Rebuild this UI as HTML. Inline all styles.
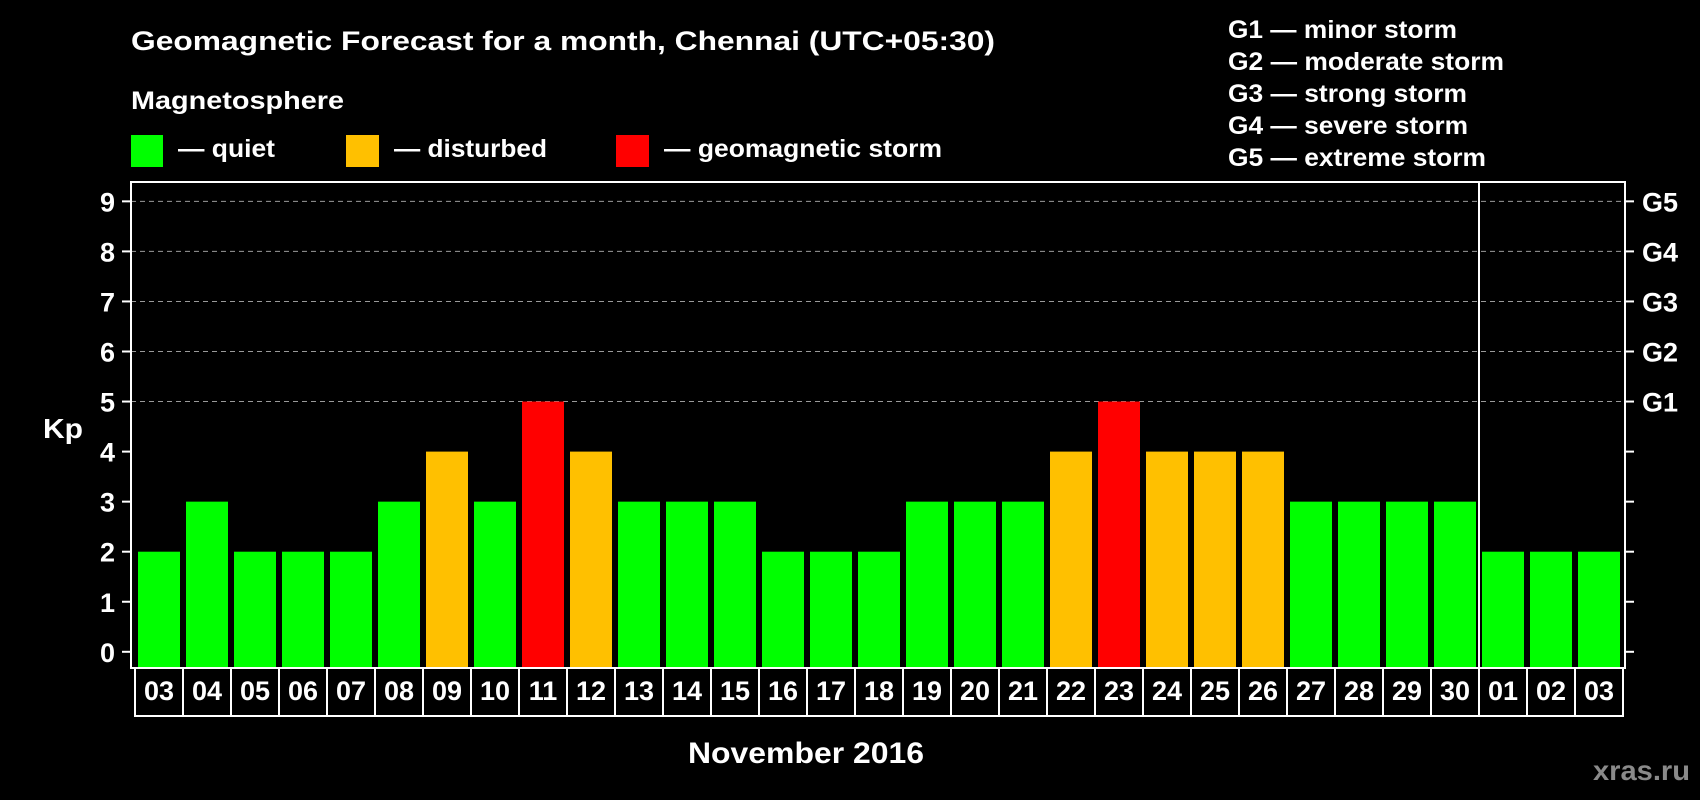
<!DOCTYPE html>
<html><head><meta charset="utf-8"><style>
html,body{margin:0;padding:0;background:#000;}
svg{display:block;font-family:"Liberation Sans",Arial,sans-serif;font-weight:bold;}
</style></head><body>
<svg id="chart" width="1700" height="800" viewBox="0 0 1700 800" xmlns="http://www.w3.org/2000/svg">
<rect x="0" y="0" width="1700" height="800" fill="#000"/>
<text x="131" y="50" fill="#fff" font-size="27" textLength="864" lengthAdjust="spacingAndGlyphs">Geomagnetic Forecast for a month, Chennai (UTC+05:30)</text>
<text x="131" y="109" fill="#fff" font-size="25" textLength="213" lengthAdjust="spacingAndGlyphs">Magnetosphere</text>
<g>
<rect x="131" y="135" width="32" height="32" fill="#00ff00"/>
<text x="178" y="157" fill="#fff" font-size="25" textLength="97" lengthAdjust="spacingAndGlyphs">— quiet</text></g>
<g>
<rect x="346" y="135" width="33" height="32" fill="#ffc000"/>
<text x="394" y="157" fill="#fff" font-size="25" textLength="153" lengthAdjust="spacingAndGlyphs">— disturbed</text></g>
<g>
<rect x="616" y="135" width="33" height="32" fill="#ff0000"/>
<text x="664" y="157" fill="#fff" font-size="25" textLength="278" lengthAdjust="spacingAndGlyphs">— geomagnetic storm</text></g>
<g fill="#fff" font-size="25">
<text x="1228" y="38" textLength="229" lengthAdjust="spacingAndGlyphs">G1 — minor storm</text>
<text x="1228" y="70" textLength="276" lengthAdjust="spacingAndGlyphs">G2 — moderate storm</text>
<text x="1228" y="102" textLength="239" lengthAdjust="spacingAndGlyphs">G3 — strong storm</text>
<text x="1228" y="134" textLength="240" lengthAdjust="spacingAndGlyphs">G4 — severe storm</text>
<text x="1228" y="166" textLength="258" lengthAdjust="spacingAndGlyphs">G5 — extreme storm</text>
</g>
<g id="grid"></g>
<g id="bars"></g>
<g id="axes"></g>
<text x="43" y="438" fill="#fff" font-size="28" textLength="40" lengthAdjust="spacingAndGlyphs">Kp</text>
<text x="688" y="763" fill="#fff" font-size="30" textLength="236" lengthAdjust="spacingAndGlyphs">November 2016</text>
<text x="1593" y="780" fill="#8a8a8a" font-size="28" textLength="97" lengthAdjust="spacingAndGlyphs">xras.ru</text>
</svg>
<script>
const days = ["03","04","05","06","07","08","09","10","11","12","13","14","15","16","17","18","19","20","21","22","23","24","25","26","27","28","29","30","01","02","03"];
const kpValues = [2,3,2,2,2,3,4,3,5,4,3,3,3,2,2,2,3,3,3,4,5,4,4,4,3,3,3,3,2,2,2];
const yTicks = [0,1,2,3,4,5,6,7,8,9];
const gLabels = ["G1","G2","G3","G4","G5"];
const gLevels = [5,6,7,8,9];
const monthBreakIndex = 28;

const NS = "http://www.w3.org/2000/svg";
const plotL = 131, plotR = 1625, plotT = 182, plotB = 668;
const y0 = 651.8, unit = 50.05;
const barX0 = 138, step = 48, barW = 42;
function yScale(v){ return y0 - v*unit; }
function xScale(i){ return barX0 + i*step; }
function mk(tag, attrs, parent){ const e = document.createElementNS(NS, tag); for (const k in attrs) e.setAttribute(k, attrs[k]); parent.appendChild(e); return e; }
function color(v){ return v >= 5 ? "#ff0000" : (v >= 4 ? "#ffc000" : "#00ff00"); }

const grid = document.getElementById("grid");
const bars = document.getElementById("bars");
const axes = document.getElementById("axes");

gLevels.forEach((lv, k) => {
  const y = yScale(lv);
  const l = mk("line", {x1: plotL, x2: plotR, y1: y, y2: y, stroke: "#9a9a9a", "stroke-width": 1, "stroke-dasharray": "5,4"}, grid);
  
  
  const t = mk("text", {x: 1642, y: y + 10, fill: "#fff", "font-size": 27}, axes);
  t.textContent = gLabels[k];
  
  
});

kpValues.forEach((v, i) => {
  const x = xScale(i);
  const top = yScale(v);
  const r = mk("rect", {x: x, y: top, width: barW, height: plotB - top, fill: color(v)}, bars);
  
  
});

yTicks.forEach(v => {
  const y = yScale(v);
  mk("line", {x1: 122, x2: plotL, y1: y, y2: y, stroke: "#fff", "stroke-width": 2}, axes);
  mk("line", {x1: plotR, x2: 1634, y1: y, y2: y, stroke: "#fff", "stroke-width": 2}, axes);
  const t = mk("text", {x: 115, y: y + 10, fill: "#fff", "font-size": 27, "text-anchor": "end"}, axes);
  t.textContent = v;
  
  
});

const frame = mk("rect", {x: plotL, y: plotT, width: plotR - plotL, height: plotB - plotT, fill: "none", stroke: "#fff", "stroke-width": 2}, axes);



const boxL = 135, boxT = 668, boxB = 716;
days.forEach((d, i) => {
  const x = boxL + i*step;
  const b = mk("rect", {x: x, y: boxT, width: step, height: boxB - boxT, fill: "none", stroke: "#fff", "stroke-width": 2}, axes);
  
  
  const t = mk("text", {x: x + step/2, y: 700, fill: "#fff", "font-size": 27, "text-anchor": "middle"}, axes);
  t.textContent = d;
  
  
});

const sx = boxL + monthBreakIndex*step - 0;
const sep = mk("line", {x1: sx, x2: sx, y1: plotT, y2: boxB, stroke: "#fff", "stroke-width": 2}, axes);


</script>
</body></html>
